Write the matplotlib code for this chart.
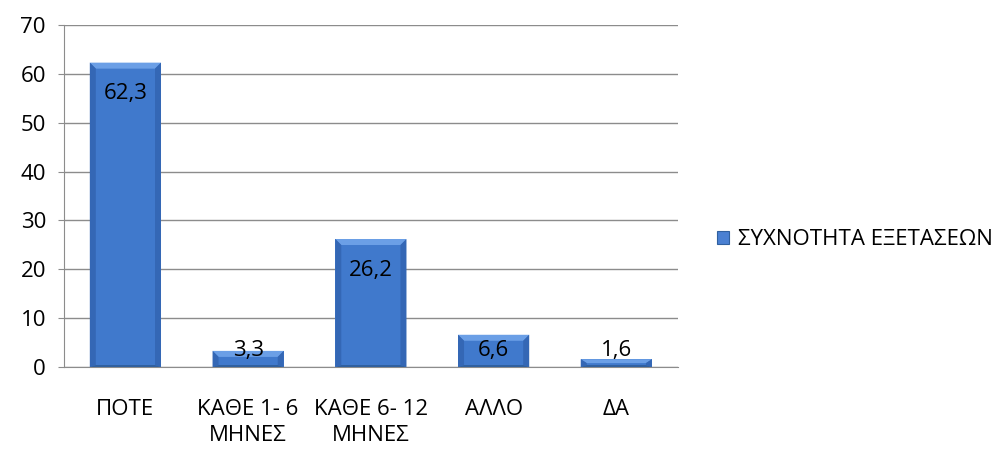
import matplotlib.pyplot as plt
import numpy as np
from matplotlib.patches import Polygon, Patch

plt.rcParams['font.family'] = ['Open Sans', 'DejaVu Sans']

categories = ['ΠΟΤΕ', 'ΚΑΘΕ 1- 6\nΜΗΝΕΣ', 'ΚΑΘΕ 6- 12\nΜΗΝΕΣ', 'ΑΛΛΟ', 'ΔΑ']
values = [62.3, 3.3, 26.2, 6.6, 1.6]
labels = ['62,3', '3,3', '26,2', '6,6', '1,6']
series_name = 'ΣΥΧΝΟΤΗΤΑ ΕΞΕΤΑΣΕΩΝ'

face = '#4079cc'
light = '#6b9fe6'
dark = '#3467b5'
darker = '#30609f'
grid = '#8c8c8c'

fig = plt.figure(figsize=(10.07, 4.5), dpi=100)
ax = fig.add_axes([0.0636, 0.1844, 0.6094, 0.76])

x = np.arange(len(values))
bars = ax.bar(x, values, width=0.58, color=face, zorder=2)
ax.set_xlim(-0.5, len(values) - 0.5)
ax.set_ylim(0, 70)
ax.set_yticks(range(0, 71, 10))
ax.yaxis.grid(True, color=grid, linewidth=1)
ax.set_axisbelow(True)

# bevel, about 6 px on each side
px_x = (ax.get_xlim()[1] - ax.get_xlim()[0]) / (0.6094 * 1007)
px_y = 70 / (0.76 * 450)
for b in bars:
    x0, w, h = b.get_x(), b.get_width(), b.get_height()
    x1 = x0 + w
    bx = 6 * px_x
    by = min(6 * px_y, h / 2)
    byb = min(2 * px_y, h / 4)
    inner = [(x0 + bx, byb), (x1 - bx, byb), (x1 - bx, h - by), (x0 + bx, h - by)]
    ax.add_patch(Polygon([(x0, h), (x1, h), inner[2], inner[3]], color=light, zorder=3, lw=0))
    ax.add_patch(Polygon([(x0, 0), (x0, h), inner[3], inner[0]], color=dark, zorder=3, lw=0))
    ax.add_patch(Polygon([(x1, 0), (x1, h), inner[2], inner[1]], color=dark, zorder=3, lw=0))
    ax.add_patch(Polygon([(x0, 0), (x1, 0), inner[1], inner[0]], color=darker, zorder=3, lw=0))

for xi, v, lab in zip(x, values, labels):
    ax.text(xi, max(v - 6.4, 3.3), lab, ha='center', va='center', fontsize=16, zorder=4)

for s in ['top', 'right']:
    ax.spines[s].set_visible(False)
ax.spines['left'].set_color(grid)
ax.spines['bottom'].set_color(grid)
ax.set_xticks(x)
ax.set_xticklabels(categories, fontsize=16, linespacing=1.3, va='top')
ax.tick_params(axis='x', length=0, pad=23)
ax.tick_params(axis='y', length=4, color=grid, pad=9, labelsize=16)

handle = Patch(facecolor='#4a80d2', edgecolor=darker, linewidth=0.8)
fig.legend([handle], [series_name], loc='center left', bbox_to_anchor=(0.692, 0.467),
           frameon=False, fontsize=16, handlelength=0.55, handleheight=0.55, handletextpad=0.4)

fig.savefig('out.png', dpi=100)
